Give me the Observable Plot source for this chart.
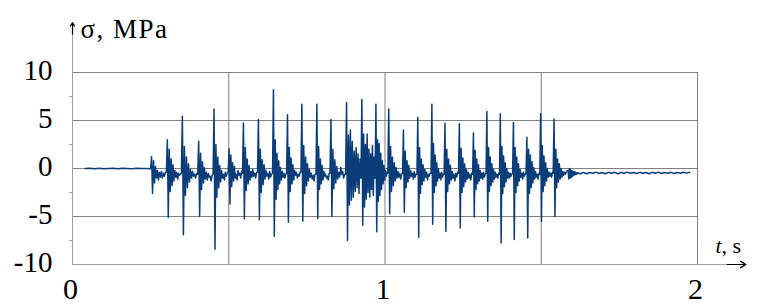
<!DOCTYPE html>
<html>
<head>
<meta charset="utf-8">
<script src="https://cdn.jsdelivr.net/npm/d3@7"></script>
<script src="https://cdn.jsdelivr.net/npm/@observablehq/plot@0.6"></script>
<style>
  html, body { margin: 0; padding: 0; background: #fff; }
  #chart { width: 762px; height: 308px; }
  #chart svg, #chart svg text { font-family: "Liberation Serif", "Times New Roman", serif !important; }
  #chart .ylab text { letter-spacing: 1.5px; }
</style>
</head>
<body>
<div id="chart"></div>
<script>
// ---- axis ticks ----
const yTicks = [-10, -5, 0, 5, 10];
const yMinorTicks = [-7.5, -2.5, 2.5, 7.5];
const yGrid = [-5, 0, 5, 10];
const xTicks = [0, 1, 2];
const xGrid = [0.5, 1, 1.5, 2];
const yLabel = "σ, MPa";
const xLabelVar = "t";
const xLabelUnit = ", s";

// ---- signal: quiet start (t from 0.04 s, step 0.015 s) ----
const quietStart = [0, 0.03, -0.02, 0.02, -0.03, 0.01, 0.02, -0.02, 0.03, 0, -0.02, 0.02, 0, 0.01, -0.03];

// ---- impact times (s); last entry = start of ring-down ----
const impactTimes = [0.253, 0.3035, 0.3516, 0.4038, 0.4529, 0.501, 0.547, 0.595, 0.643, 0.688,
  0.734, 0.782, 0.827, 0.877, 0.926, 0.971, 1.012, 1.059, 1.105, 1.150,
  1.192, 1.238, 1.283, 1.326, 1.369, 1.411, 1.454, 1.498, 1.541, 1.586];

// ---- σ samples of each impact cycle (MPa) ----
const cycles = [
  [0, 1.25, -2.6, 0.8, -1.5, 0.2, -1.0, -0.2, -1.2, -0.4, -0.9, -0.3, -1.0, -0.5, -0.8, -0.4],
  [-0.4, 3.0, -5.07, 2.0, -2.4, 1.0, -1.8, 0.4, -1.3, -0.2, -0.9, -0.4, -1.1, -0.5, -0.7, -0.6],
  [-0.5, 5.45, -6.9, 2.3, -2.8, 1.2, -2.0, 0.5, -1.4, -0.1, -1.0, -0.3, -0.8, -0.6, -1.0, -0.5],
  [-0.6, 2.85, -5.0, 1.6, -2.2, 0.7, -1.5, 0.1, -1.1, -0.4, -1.2, -0.5, -0.9, -0.8, -1.3, -0.7],
  [-0.6, 6.2, -8.4, 2.5, -3.0, 1.2, -2.0, 0.3, -1.4, -0.2, -1.0, -0.6, -1.2, -0.4, -0.8, -0.5],
  [-0.4, 2.05, -3.7, 1.4, -1.9, 0.6, -1.3, 0.2, -1.0, -0.6, -1.2, -0.2, -0.7, -0.5, -1.0, -0.3],
  [-0.5, 4.75, -5.25, 2.2, -2.3, 1.0, -1.6, 0.3, -1.2, -0.3, -0.9, -0.1, -0.8, -0.5, -1.0, -0.4],
  [-0.4, 5.1, -5.35, 2.0, -2.5, 0.9, -1.7, 0.4, -1.1, -0.2, -0.8, -0.5, -1.1, -0.3, -0.9, -0.6],
  [-0.5, 8.2, -7.05, 3.0, -3.2, 1.6, -2.2, 0.8, -1.6, 0.1, -1.2, -0.3, -0.9, -0.5, -1.0, -0.6],
  [-0.5, 5.6, -5.6, 2.2, -2.4, 1.1, -1.6, 0.4, -1.2, -0.2, -0.7, -0.4, -1.0, -0.6, -0.8, -0.4],
  [-0.4, 6.7, -5.5, 2.4, -2.6, 1.2, -1.8, 0.5, -1.3, -0.1, -0.9, -0.5, -1.1, -0.7, -1.3, -0.6],
  [-0.6, 6.7, -5.2, 2.3, -2.2, 1.0, -1.6, 0.3, -1.2, -0.3, -0.8, -0.6, -1.0, -0.8, -1.2, -0.5],
  [-0.5, 5.1, -5.0, 2.0, -2.1, 0.9, -1.5, 0.2, -1.1, -0.4, -0.9, 0.1, -0.6, -0.3, -1.0, -0.6],
  [-0.6, 6.85, -7.5, 3.5, -3.8, 4.0, -3.3, 2.8, -3.0, 1.8, -2.4, 2.2, -2.0, 1.5, -2.6, 1.0],
  [-1.0, 7.2, -5.9, 3.6, -4.0, 2.5, -3.2, 3.6, -2.5, 2.0, -3.0, 1.5, -2.2, 2.4, -2.8, 1.2],
  [-1.0, 6.7, -6.6, 3.0, -3.4, 2.6, -2.8, 1.6, -2.2, 0.8, -1.6, 0.3, -1.2, -0.2, -0.8, -0.4],
  [-0.5, 6.2, -4.7, 2.3, -2.4, 1.2, -1.8, 0.6, -1.3, 0.1, -1.0, -0.3, -0.9, -0.5, -1.1, -0.6],
  [-0.5, 4.0, -4.55, 1.8, -2.0, 0.8, -1.4, 0.3, -1.0, -0.2, -0.8, -0.5, -1.1, -0.3, -0.9, -0.6],
  [-0.6, 5.3, -7.15, 2.2, -2.6, 1.0, -1.7, 0.4, -1.3, -0.1, -0.9, -0.4, -1.2, -0.6, -0.8, -0.5],
  [-0.5, 6.7, -5.8, 2.6, -2.5, 1.4, -1.8, 0.6, -1.3, 0.0, -1.0, -0.5, -1.2, -0.4, -0.9, -0.6],
  [-0.6, 4.75, -6.55, 2.0, -2.4, 1.0, -1.6, 0.3, -1.2, -0.3, -1.0, -0.6, -1.3, -0.5, -0.9, -0.4],
  [-0.5, 4.65, -6.2, 2.1, -2.5, 1.1, -1.9, 0.5, -1.4, -0.1, -1.1, -0.4, -1.0, -0.6, -1.2, -0.5],
  [-0.6, 3.7, -5.05, 1.9, -2.2, 1.0, -1.6, 0.4, -1.3, -0.2, -1.0, -0.5, -1.1, -0.4, -0.9, -0.6],
  [-0.5, 5.95, -5.5, 2.2, -2.4, 1.2, -1.8, 0.5, -1.4, -0.1, -1.1, -0.4, -0.9, -0.6, -1.0, -0.5],
  [-0.6, 5.7, -7.75, 2.3, -2.6, 1.3, -1.9, 0.6, -1.4, 0.0, -1.0, -0.4, -1.0, -0.5, -0.8, -0.6],
  [-0.5, 4.8, -7.4, 2.2, -2.5, 1.2, -1.8, 0.5, -1.3, -0.1, -0.9, -0.5, -1.1, -0.4, -0.8, -0.6],
  [-0.5, 3.25, -7.25, 2.0, -2.6, 1.4, -2.0, 0.7, -1.5, 0.1, -1.1, -0.3, -0.9, -0.6, -1.1, -0.5],
  [-0.6, 5.7, -5.5, 2.4, -2.4, 1.3, -1.8, 0.6, -1.3, 0.0, -0.9, -0.4, -0.8, -0.5, -0.9, -0.4],
  [-0.5, 5.15, -5.0, 2.0, -2.0, 1.0, -1.4, 0.5, -1.1, 0.0, -0.9, -0.3, -0.7, -0.4, -0.6, -0.3]
];

// ---- ring-down after last impact (from 1.586 s, step 0.002 s) ----
const ringDown = [-0.2, -1.1, 0.0, -1.0, -0.1, -0.9, -0.2, -0.8, -0.3, -0.7, -0.35, -0.65, -0.4, -0.6, -0.45, -0.55, -0.45, -0.5];

// ---- residual tail (from 1.625 s, step 0.01 s) ----
const tail = [-0.55, -0.4, -0.55, -0.42, -0.5, -0.38, -0.52, -0.42, -0.55, -0.4, -0.5, -0.4, -0.55, -0.42, -0.5, -0.38,
  -0.5, -0.42, -0.52, -0.4, -0.5, -0.42, -0.55, -0.4, -0.5, -0.38, -0.52, -0.42, -0.5, -0.4, -0.52, -0.42, -0.5, -0.4, -0.48, -0.4];

// ---- assemble time series ----
const signal = [];
quietStart.forEach((v, i) => signal.push({t: 0.04 + i * 0.015, s: v}));
cycles.forEach((c, k) => {
  const step = (impactTimes[k + 1] - impactTimes[k]) / c.length;
  c.forEach((v, i) => signal.push({t: impactTimes[k] + (i - 1) * step, s: v}));
});
ringDown.forEach((v, i) => signal.push({t: 1.586 + i * 0.002, s: v}));
tail.forEach((v, i) => signal.push({t: 1.625 + i * 0.01, s: v}));

const serif = "Liberation Serif";
const plainFormat = d => String(d);
const chart = Plot.plot({
  width: 762, height: 308,
  marginLeft: 72, marginRight: 65, marginTop: 72, marginBottom: 44,
  x: {domain: [0, 2]},
  y: {domain: [-10, 10]},
  style: {fontFamily: serif, background: "#fff", overflow: "visible", color: "#000"},
  marks: [
    Plot.gridY(yGrid, {stroke: "#808080", strokeOpacity: 1, strokeWidth: 1}),
    Plot.gridX(xGrid, {stroke: "#808080", strokeOpacity: 1, strokeWidth: 1}),
    // axis lines extended into arrows
    Plot.ruleX([0], {y1: -10, y2: 14.2, stroke: "#a0a0a0", strokeWidth: 1}),
    Plot.ruleY([-10], {x1: 0, x2: 2.1, stroke: "#a0a0a0", strokeWidth: 1}),
    Plot.arrow([0], {x1: 0, x2: 0, y1: 14.0, y2: 15.2, stroke: "#000", strokeWidth: 1.2, headLength: 7}),
    Plot.arrow([0], {x1: 2.095, x2: 2.155, y1: -10, y2: -10, stroke: "#000", strokeWidth: 1.2, headLength: 8}),
    Plot.axisY(yMinorTicks, {tickSize: 3, text: null, stroke: "#a0a0a0", label: null}),
    Plot.axisY(yTicks, {tickSize: 0, tickPadding: 20, fontSize: 29, dy: -2, label: null, fill: "#000", fontFamily: serif, tickFormat: plainFormat}),
    Plot.axisX(xTicks, {tickSize: 0, tickPadding: 13, fontSize: 30, dx: -2, label: null, fill: "#000", fontFamily: serif, tickFormat: plainFormat}),
    Plot.line(signal, {x: "t", y: "s", stroke: "#0b3d7a", strokeWidth: 1.5}),
    Plot.text([yLabel], {frameAnchor: "top-left", dx: 8, dy: -43, textAnchor: "start", lineAnchor: "middle", fontSize: 27, fill: "#000", fontFamily: serif, className: "ylab"}),
    Plot.text([xLabelVar], {frameAnchor: "bottom-right", dx: 24, dy: -19, textAnchor: "end", lineAnchor: "middle", fontSize: 22, fontStyle: "italic", fill: "#000", fontFamily: serif}),
    Plot.text([xLabelUnit], {frameAnchor: "bottom-right", dx: 24, dy: -19, textAnchor: "start", lineAnchor: "middle", fontSize: 22, fill: "#000", fontFamily: serif})
  ]
});
document.getElementById("chart").appendChild(chart);
</script>
</body>
</html>
